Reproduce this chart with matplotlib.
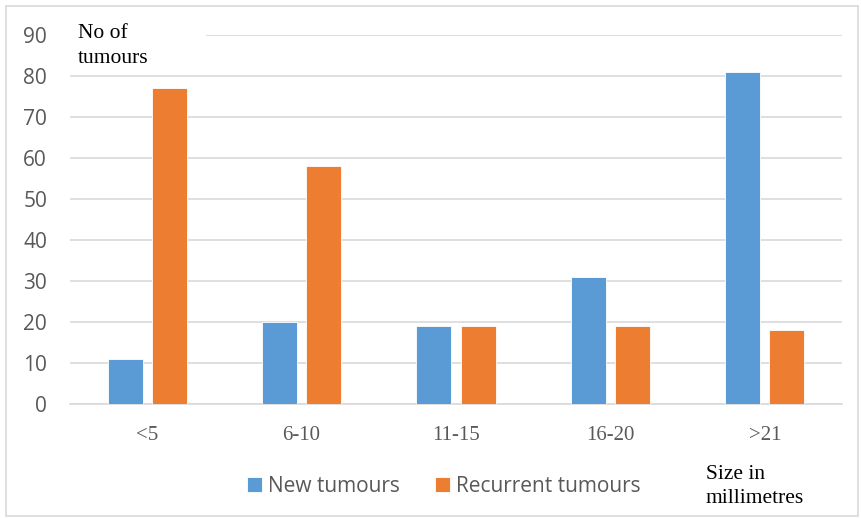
import numpy as np
import matplotlib.pyplot as plt
from matplotlib.patches import Rectangle

categories = ['<5', '6-10', '11-15', '16-20', '>21']
new_tumours = [11, 20, 19, 31, 81]
recurrent_tumours = [77, 58, 19, 19, 18]
y_ticks = [0, 10, 20, 30, 40, 50, 60, 70, 80, 90]

blue = '#5B9BD5'
orange = '#ED7D31'
grid_col = '#D9D9D9'
tick_col = '#595959'

fig = plt.figure(figsize=(8.62, 5.18), dpi=100)
ax = fig.add_axes([70 / 862, 1 - 404 / 518, 772 / 862, 369 / 518])

x = np.arange(len(categories))
w = 0.226
off = 0.143
ax.bar(x - off, new_tumours, w, color=blue, edgecolor='white', linewidth=0.6,
       label='New tumours', zorder=3)
ax.bar(x + off, recurrent_tumours, w, color=orange, edgecolor='white', linewidth=0.6,
       label='Recurrent tumours', zorder=3)

ax.set_xlim(-0.5, len(categories) - 0.5)
ax.set_ylim(0, 90)
ax.set_yticks(y_ticks)
ax.set_xticks(x)
ax.set_xticklabels(categories, family='Liberation Serif', fontsize=15, color=tick_col)
for lab in ax.get_yticklabels():
    lab.set_family('Open Sans')
    lab.set_fontsize(15)
    lab.set_color(tick_col)
ax.tick_params(axis='both', length=0)
ax.tick_params(axis='y', pad=16.5)
ax.tick_params(axis='x', pad=16)
ax.yaxis.grid(True, color=grid_col, linewidth=1.2, zorder=0)
for s in ['top', 'right', 'left']:
    ax.spines[s].set_visible(False)
ax.spines['bottom'].set_color(grid_col)
ax.spines['bottom'].set_linewidth(1.2)

# white box behind y-axis title
fig.patches.append(Rectangle((70 / 862, 1 - 72 / 518), 136 / 862, 60 / 518,
                             transform=fig.transFigure, facecolor='white',
                             edgecolor='none', zorder=5))
fig.text(78 / 862, 1 - 24 / 518, 'No of\ntumours', family='Liberation Serif',
         fontsize=15.5, va='top', ha='left', linespacing=1.45, zorder=6)
fig.text(706 / 862, 1 - 465 / 518, 'Size in\nmillimetres', family='Liberation Serif',
         fontsize=15.5, va='top', ha='left', linespacing=1.35)

leg = fig.legend(loc='center', bbox_to_anchor=(444 / 862, 1 - 486 / 518), ncol=2,
                 frameon=False, handlelength=0.7, handleheight=0.7,
                 handletextpad=0.3, columnspacing=1.7,
                 prop={'family': 'Open Sans', 'size': 15})
for t in leg.get_texts():
    t.set_color(tick_col)

# chart border
fig.patches.append(Rectangle((6 / 862, 2 / 518), 852 / 862, 510 / 518,
                             transform=fig.transFigure, facecolor='none',
                             edgecolor=grid_col, linewidth=1.2))

fig.savefig('out.png', dpi=100)
